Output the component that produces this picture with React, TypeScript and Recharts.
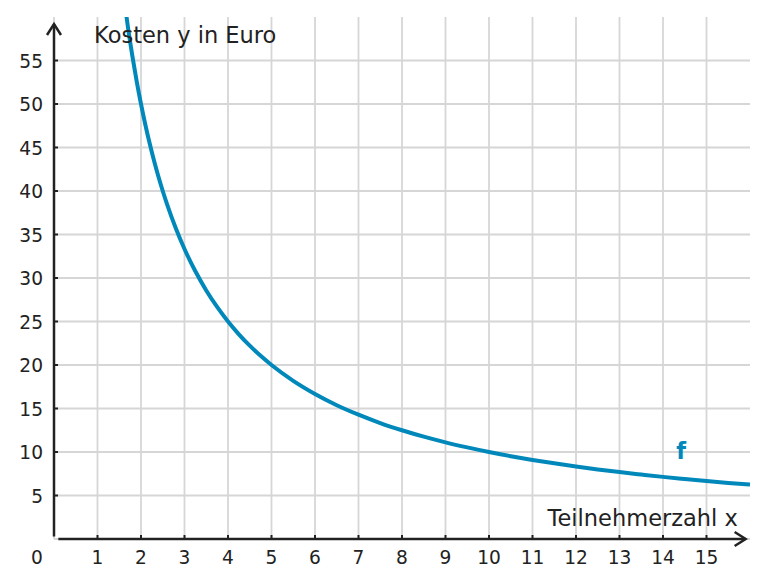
import React from 'react';
import { LineChart, Line, XAxis, YAxis, CartesianGrid, ReferenceLine, ReferenceDot } from 'recharts';

// Teilnehmerzahl x
const xValues = [1.6, 1.7, 1.8, 1.9, 2, 2.1, 2.2, 2.3, 2.4, 2.5, 2.6, 2.8, 3, 3.25, 3.5, 3.75, 4, 4.25, 4.5, 4.75, 5, 5.5, 6, 6.5, 7, 7.5, 8, 8.5, 9, 9.5, 10, 10.5, 11, 11.5, 12, 12.5, 13, 13.5, 14, 14.5, 15, 15.5, 16];
// Kosten y in Euro
const costValues = [62.5, 58.82, 55.56, 52.63, 50, 47.62, 45.45, 43.48, 41.67, 40, 38.46, 35.71, 33.33, 30.77, 28.57, 26.67, 25, 23.53, 22.22, 21.05, 20, 18.18, 16.67, 15.38, 14.29, 13.33, 12.5, 11.76, 11.11, 10.53, 10, 9.52, 9.09, 8.7, 8.33, 8, 7.69, 7.41, 7.14, 6.9, 6.67, 6.45, 6.25];

const xTicks = [0, 1, 2, 3, 4, 5, 6, 7, 8, 9, 10, 11, 12, 13, 14, 15];
const yTicks = [0, 5, 10, 15, 20, 25, 30, 35, 40, 45, 50, 55];

const data = xValues.map((x, i) => ({ x, y: costValues[i] }));

const INK = '#222222';
const BLUE = '#0088bb';
const FONT = '"DejaVu Sans", sans-serif';

const XTick = (props: any) => {
    const { x, y, payload } = props;
    if (payload.value === 0) {
        return <text x={x - 17} y={y + 25} textAnchor="middle" fontSize={18.6} fill={INK} fontFamily={FONT}>0</text>;
    }
    return (
        <g>
            <line x1={x} x2={x} y1={y - 4} y2={y} stroke={INK} strokeWidth={2} />
            <text x={x} y={y + 25} textAnchor="middle" fontSize={18.6} fill={INK} fontFamily={FONT}>{payload.value}</text>
        </g>
    );
};

const YTick = (props: any) => {
    const { x, y, payload } = props;
    if (payload.value === 0) return <g />;
    return (
        <g>
            <line x1={x} x2={x + 4} y1={y} y2={y} stroke={INK} strokeWidth={2} />
            <text x={x - 11} y={y + 7} textAnchor="end" fontSize={18.6} fill={INK} fontFamily={FONT}>{payload.value}</text>
        </g>
    );
};

const arrowAxis = (p: any) => {
    const { x1, y1, x2, y2 } = p;
    const horizontal = Math.abs(y2 - y1) < Math.abs(x2 - x1);
    const head = horizontal
        ? `M${x2 - 11},${y2 - 7} L${x2},${y2} L${x2 - 11},${y2 + 7}`
        : `M${x2 - 7},${y2 + 11} L${x2},${y2} L${x2 + 7},${y2 + 11}`;
    return (
        <g>
            <line x1={x1} y1={y1} x2={x2} y2={y2} stroke={INK} strokeWidth={2.5} />
            <path d={head} fill="none" stroke={INK} strokeWidth={2.5} />
        </g>
    );
};

const textAt = (value: string, anchor: 'start' | 'end' | 'middle', size: number, color: string, bold = false) => (p: any) => (
    <text x={p.cx} y={p.cy} textAnchor={anchor} fontSize={size} fill={color} fontFamily={FONT} fontWeight={bold ? 'bold' : 'normal'}>
        {value}
    </text>
);

export default function App() {
    return (
        <LineChart width={751} height={571} data={data} margin={{ top: 9, right: 9, left: 0, bottom: 0 }}>
            <CartesianGrid stroke="#d6d6d6" strokeWidth={1.8} syncWithTicks />
            <XAxis
                dataKey="x"
                type="number"
                domain={[0, 16]}
                ticks={xTicks}
                height={40}
                axisLine={false}
                tickLine={false}
                tickSize={0}
                tickMargin={0}
                tick={<XTick />}
                interval={0}
            />
            <YAxis
                type="number"
                domain={[0, 60]}
                allowDataOverflow
                ticks={yTicks}
                width={46}
                axisLine={false}
                tickLine={false}
                tickSize={0}
                tickMargin={0}
                tick={<YTick />}
                interval={0}
            />
            <ReferenceLine segment={[{ x: 0.1, y: 0 }, { x: 15.9, y: 0 }]} shape={arrowAxis} ifOverflow="visible" />
            <ReferenceLine segment={[{ x: 0, y: 0.3 }, { x: 0, y: 59.2 }]} shape={arrowAxis} ifOverflow="visible" />
            <Line
                type="monotone"
                dataKey="y"
                stroke={BLUE}
                strokeWidth={4}
                dot={false}
                activeDot={false}
                isAnimationActive={false}
            />
            <ReferenceDot x={14.42} y={9.2} r={0} shape={textAt('f', 'middle', 22.5, BLUE, true)} ifOverflow="visible" />
            <ReferenceDot x={0.92} y={57} r={0} shape={textAt('Kosten y in Euro', 'start', 22.5, INK)} ifOverflow="visible" />
            <ReferenceDot x={15.72} y={1.5} r={0} shape={textAt('Teilnehmerzahl x', 'end', 22.5, INK)} ifOverflow="visible" />
        </LineChart>
    );
}
